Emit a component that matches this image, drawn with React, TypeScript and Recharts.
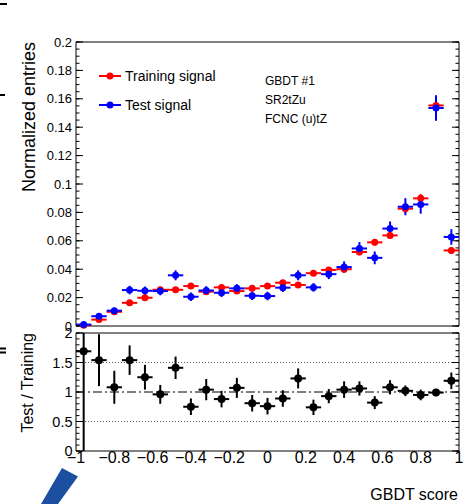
import React from 'react'
import {
  ScatterChart, Scatter, XAxis, YAxis, ErrorBar,
  ReferenceLine, ReferenceArea, Legend
} from 'recharts'

// GBDT score bins: 25 bins of width 0.08 between -1 and 1
const binCenters = [
  -0.96, -0.88, -0.8, -0.72, -0.64, -0.56, -0.48, -0.4, -0.32, -0.24, -0.16, -0.08,
  0, 0.08, 0.16, 0.24, 0.32, 0.4, 0.48, 0.56, 0.64, 0.72, 0.8, 0.88, 0.96,
]
const binHalfWidth = 0.04

const trainingSignal = [
  0.0006, 0.0045, 0.0100, 0.0163, 0.0199, 0.0255, 0.0255, 0.0281, 0.0242, 0.0272, 0.0246, 0.0265,
  0.0281, 0.0305, 0.0289, 0.0372, 0.0395, 0.0400, 0.0521, 0.0589, 0.0638, 0.0826, 0.0899, 0.1553, 0.0532,
]
const trainingError = [
  0.0003, 0.0008, 0.0010, 0.0013, 0.0014, 0.0016, 0.0016, 0.0017, 0.0016, 0.0017, 0.0016, 0.0016,
  0.0017, 0.0018, 0.0017, 0.0019, 0.0020, 0.0020, 0.0023, 0.0024, 0.0025, 0.0029, 0.0030, 0.0040, 0.0023,
]
const testSignal = [
  0.0010, 0.0069, 0.0108, 0.0253, 0.0248, 0.0246, 0.0357, 0.0206, 0.0250, 0.0234, 0.0265, 0.0213,
  0.0211, 0.0270, 0.0357, 0.0272, 0.0365, 0.0415, 0.0546, 0.0480, 0.0686, 0.0840, 0.0856, 0.1535, 0.0627,
]
const testError = [
  0.0010, 0.0020, 0.0020, 0.0030, 0.0030, 0.0030, 0.0035, 0.0030, 0.0030, 0.0030, 0.0030, 0.0030,
  0.0030, 0.0030, 0.0035, 0.0030, 0.0035, 0.0040, 0.0045, 0.0045, 0.0050, 0.0060, 0.0065, 0.0090, 0.0055,
]

// Test / Training ratio as drawn in the lower pad
const ratioValues = [
  1.69, 1.54, 1.08, 1.54, 1.25, 0.96, 1.41, 0.75, 1.04, 0.88, 1.07, 0.81,
  0.76, 0.89, 1.23, 0.74, 0.93, 1.04, 1.06, 0.82, 1.08, 1.02, 0.95, 0.99, 1.19,
]
const ratioError: (number | [number, number])[] = [
  [1.69, 0.31], 0.44, 0.28, 0.25, 0.21, 0.16, 0.19, 0.14, 0.18, 0.14, 0.17, 0.14,
  0.14, 0.14, 0.17, 0.13, 0.12, 0.14, 0.12, 0.11, 0.12, 0.09, 0.09, 0.06, 0.14,
]

const xTicks = [-1, -0.8, -0.6, -0.4, -0.2, 0, 0.2, 0.4, 0.6, 0.8, 1]
const xTickLabels = ['\u22121', '\u22120.8', '\u22120.6', '\u22120.4', '\u22120.2', '0', '0.2', '0.4', '0.6', '0.8', '1']
const topYTicks = [0, 0.02, 0.04, 0.06, 0.08, 0.1, 0.12, 0.14, 0.16, 0.18, 0.2]
const topYTickLabels = ['0', '0.02', '0.04', '0.06', '0.08', '0.1', '0.12', '0.14', '0.16', '0.18', '0.2']
const ratioYTicks = [0, 0.5, 1, 1.5, 2]
const ratioYTickLabels = ['0', '0.5', '1', '1.5', '2']
const legendOrder = ['Training signal', 'Test signal']

const steps = (from: number, to: number, step: number) =>
  Array.from({ length: Math.round((to - from) / step) + 1 }, (_, i) => +(from + i * step).toFixed(4))
const xMinorTicks = steps(-1, 1, 0.05)
const topYMinorTicks = steps(0, 0.2, 0.005)
const ratioYMinorTicks = steps(0, 2, 0.1)

const FONT = '"Liberation Sans", Arial, Helvetica, sans-serif'
const W = 466
const H = 504

const trainingData = binCenters.map((x, i) => ({ x, y: trainingSignal[i], ex: binHalfWidth, ey: trainingError[i] }))
const testData = binCenters.map((x, i) => ({ x, y: testSignal[i], ex: binHalfWidth, ey: testError[i] }))
const ratioData = binCenters.map((x, i) => ({ x, y: ratioValues[i], ex: binHalfWidth, ey: ratioError[i] }))

const label = (ticks: number[], labels: string[]) => (v: number) => {
  const i = ticks.findIndex(t => Math.abs(t - v) < 1e-9)
  return i >= 0 ? labels[i] : ''
}

const dot = (color: string, r: number) => (p: any) =>
  <circle cx={p.cx} cy={p.cy} r={r} fill={color} />

const noLabel = () => <g />

// ROOT style frame ticks: inward, on all four sides, major + minor
function frameTicks(p: string, yDomain: [number, number], yMajor: number[], yMinor: number[],
  len: { xMaj: number, xMin: number, yMaj: number, yMin: number }) {
  const common = {
    type: 'number' as const, allowDataOverflow: true, interval: 0 as const,
    tick: noLabel, axisLine: false, mirror: true,
    tickLine: { stroke: '#000', strokeWidth: 1 },
  }
  const xs: [string, 'bottom' | 'top', number[], number][] = [
    ['xb', 'bottom', xTicks, len.xMaj], ['xbm', 'bottom', xMinorTicks, len.xMin],
    ['xt', 'top', xTicks, len.xMaj], ['xtm', 'top', xMinorTicks, len.xMin],
  ]
  const ys: [string, 'left' | 'right', number[], number][] = [
    ['yl', 'left', yMajor, len.yMaj], ['ylm', 'left', yMinor, len.yMin],
    ['yr', 'right', yMajor, len.yMaj], ['yrm', 'right', yMinor, len.yMin],
  ]
  return [
    ...xs.map(([id, o, t, s]) => (
      <XAxis key={p + id} xAxisId={p + id} orientation={o} domain={[-1, 1]} ticks={t}
        tickSize={s} height={0.01} {...common} />
    )),
    ...ys.map(([id, o, t, s]) => (
      <YAxis key={p + id} yAxisId={p + id} orientation={o} domain={yDomain} ticks={t}
        tickSize={s} width={0.01} {...common} />
    )),
  ]
}

const renderLegend = (props: any) => {
  const items = [...(props.payload || [])].sort(
    (a: any, b: any) => legendOrder.indexOf(a.value) - legendOrder.indexOf(b.value))
  return (
    <div style={{ fontFamily: FONT, fontSize: 14, color: '#000' }}>
      {items.map((entry: any) => (
        <div key={entry.value} style={{ display: 'flex', alignItems: 'center', height: 28.4 }}>
          <svg width={24} height={10}>
            <line x1={1} y1={5} x2={23} y2={5} stroke={entry.color} strokeWidth={2} />
            <circle cx={12} cy={5} r={3.5} fill={entry.color} />
          </svg>
          <span style={{ marginLeft: 3 }}>{entry.value}</span>
        </div>
      ))}
    </div>
  )
}

function DistributionPad() {
  return (
    <ScatterChart width={W} height={H} margin={{ top: 42, right: 7, left: 26, bottom: 178 }}>
      <XAxis xAxisId="x" dataKey="x" type="number" domain={[-1, 1]} hide />
      <YAxis yAxisId="y" dataKey="y" type="number" domain={[0, 0.2]} width={50}
        ticks={topYTicks} interval={0} tickFormatter={label(topYTicks, topYTickLabels)}
        tickLine={false} axisLine={false} tickSize={1} tickMargin={3}
        tick={{ fill: '#000', fontSize: 13, fontFamily: FONT }} />
      {frameTicks('d', [0, 0.2], topYTicks, topYMinorTicks, { xMaj: 8, xMin: 4, yMaj: 7, yMin: 3.5 })}
      <ReferenceArea xAxisId="x" yAxisId="y" x1={-1} x2={1} y1={0} y2={0.2}
        fill="none" stroke="#000" strokeWidth={1} />
      <Legend layout="vertical" align="center" verticalAlign="middle" content={renderLegend}
        wrapperStyle={{ left: 98, top: 62, width: 'auto' }} />
      <Scatter name="Training signal" xAxisId="x" yAxisId="y" data={trainingData} fill="#ff0000"
        shape={dot('#ff0000', 3.5)} isAnimationActive={false}>
        <ErrorBar dataKey="ex" direction="x" width={0} stroke="#ff0000" strokeWidth={2} />
        <ErrorBar dataKey="ey" direction="y" width={0} stroke="#ff0000" strokeWidth={2} />
      </Scatter>
      <Scatter name="Test signal" xAxisId="x" yAxisId="y" data={testData} fill="#0000ff"
        shape={dot('#0000ff', 3.5)} isAnimationActive={false}>
        <ErrorBar dataKey="ex" direction="x" width={0} stroke="#0000ff" strokeWidth={2} />
        <ErrorBar dataKey="ey" direction="y" width={0} stroke="#0000ff" strokeWidth={2} />
      </Scatter>
    </ScatterChart>
  )
}

function RatioPad() {
  return (
    <ScatterChart width={W} height={H} margin={{ top: 333, right: 7, left: 26, bottom: 28 }}>
      <XAxis xAxisId="x" dataKey="x" type="number" domain={[-1, 1]} height={25}
        ticks={xTicks} interval={0} tickFormatter={label(xTicks, xTickLabels)}
        tickLine={false} axisLine={false} tickSize={1} tickMargin={0}
        tick={{ fill: '#000', fontSize: 16, fontFamily: FONT }} />
      <YAxis yAxisId="y" dataKey="y" type="number" domain={[0, 2]} width={50}
        ticks={ratioYTicks} interval={0} tickFormatter={label(ratioYTicks, ratioYTickLabels)}
        tickLine={false} axisLine={false} tickSize={1} tickMargin={2.5}
        tick={{ fill: '#000', fontSize: 14.5, fontFamily: FONT }} />
      {frameTicks('r', [0, 2], ratioYTicks, ratioYMinorTicks, { xMaj: 9, xMin: 4.5, yMaj: 7, yMin: 3.5 })}
      <ReferenceLine xAxisId="x" yAxisId="y" y={1.5} stroke="#555" strokeDasharray="1 2" />
      <ReferenceLine xAxisId="x" yAxisId="y" y={0.5} stroke="#555" strokeDasharray="1 2" />
      <ReferenceLine xAxisId="x" yAxisId="y" y={1} stroke="#000" strokeWidth={1.2} strokeDasharray="9 3 2 3" />
      <ReferenceArea xAxisId="x" yAxisId="y" x1={-1} x2={1} y1={0} y2={2}
        fill="none" stroke="#000" strokeWidth={1} />
      <Scatter name="Test / Training" xAxisId="x" yAxisId="y" data={ratioData} fill="#000"
        shape={dot('#000', 4)} isAnimationActive={false}>
        <ErrorBar dataKey="ex" direction="x" width={0} stroke="#000" strokeWidth={2} />
        <ErrorBar dataKey="ey" direction="y" width={0} stroke="#000" strokeWidth={2} />
      </Scatter>
    </ScatterChart>
  )
}

export default function App() {
  const layer: React.CSSProperties = { position: 'absolute', left: 0, top: 0 }
  return (
    <div style={{ position: 'absolute', left: 0, top: 0, width: W, height: H, background: '#fff', overflow: 'hidden' }}>
      <div style={layer}><DistributionPad /></div>
      <div style={layer}><RatioPad /></div>
      <svg width={W} height={H} style={{ ...layer, pointerEvents: 'none' }} fontFamily={FONT}>
        <text x={35} y={42} fontSize={18} textAnchor="end" transform="rotate(-90 35 42)">Normalized entries</text>
        <text x={33} y={333} fontSize={16} textAnchor="end" transform="rotate(-90 33 333)">Test / Training</text>
        <text x={458} y={500} fontSize={16} textAnchor="end">GBDT score</text>
        <text x={265} y={85} fontSize={12}>GBDT #1</text>
        <text x={265} y={104} fontSize={12}>SR2tZu</text>
        <text x={265} y={122.5} fontSize={12}>FCNC (u)tZ</text>
        {/* bits of the neighbouring figure cut off at the edges */}
        <rect x={0} y={3} width={7} height={2} fill="#000" />
        <rect x={0} y={94} width={5} height={2} fill="#000" />
        <rect x={0} y={347.5} width={6} height={2} fill="#000" />
        <rect x={0} y={351.5} width={6} height={2} fill="#000" />
        <polygon points="62,468 78,476.5 58,504 41,504" fill="#1c4f9f" />
      </svg>
    </div>
  )
}
